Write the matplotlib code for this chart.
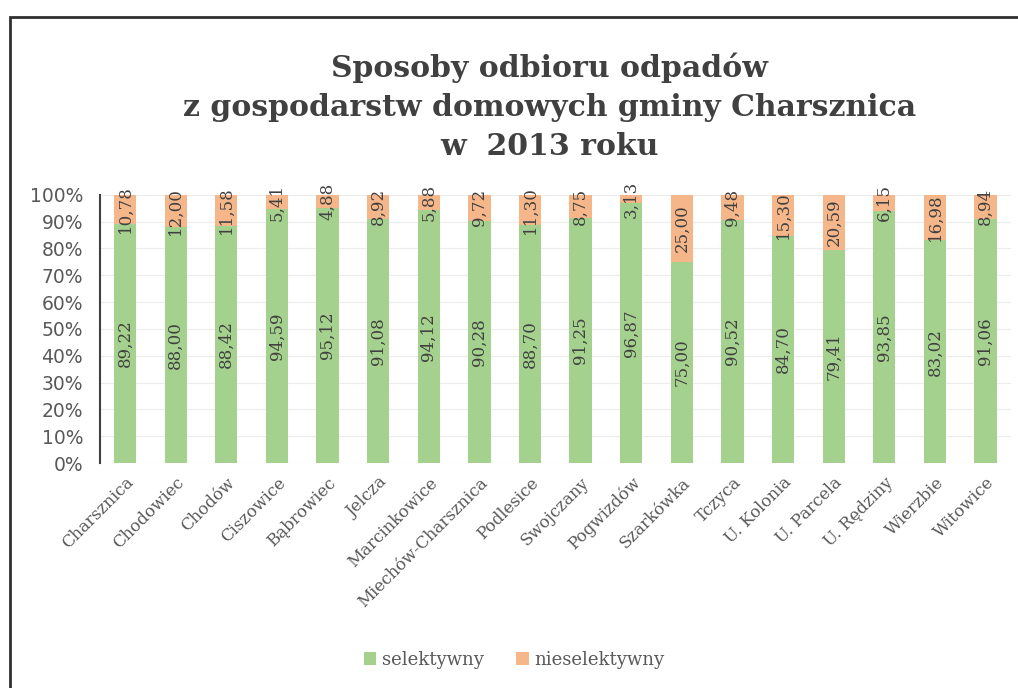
import numpy as np
import matplotlib.pyplot as plt
from matplotlib.patches import Rectangle

gminy = ["Charsznica", "Chodowiec", "Chodów", "Ciszowice", "Bąbrowiec", "Jelcza",
         "Marcinkowice", "Miechów-Charsznica", "Podlesice", "Swojczany", "Pogwizdów",
         "Szarkówka", "Tczyca", "U. Kolonia", "U. Parcela", "U. Rędziny", "Wierzbie",
         "Witowice"]
selektywny = [89.22, 88.00, 88.42, 94.59, 95.12, 91.08, 94.12, 90.28, 88.70, 91.25,
              96.87, 75.00, 90.52, 84.70, 79.41, 93.85, 83.02, 91.06]
nieselektywny = [10.78, 12.00, 11.58, 5.41, 4.88, 8.92, 5.88, 9.72, 11.30, 8.75,
                 3.13, 25.00, 9.48, 15.30, 20.59, 6.15, 16.98, 8.94]

green = "#a5d18e"
orange = "#f5b68a"
txt = "#595959"
serif = ["DejaVu Serif"]

fig = plt.figure(figsize=(10.18, 6.88), dpi=100)
ax = fig.add_axes([0.098, 0.327, 0.895, 0.39])

x = np.arange(len(gminy))
w = 0.44
b1 = ax.bar(x, selektywny, w, color=green, label="selektywny")
b2 = ax.bar(x, nieselektywny, w, bottom=selektywny, color=orange, label="nieselektywny")

# etykiety wartości, pionowo
for i in range(len(gminy)):
    ax.text(x[i], selektywny[i] / 2, f"{selektywny[i]:.2f}".replace(".", ","),
            rotation=90, ha="center", va="center", fontsize=12, color="#404040",
            family=serif)
    ax.text(x[i], selektywny[i] + nieselektywny[i] / 2,
            f"{nieselektywny[i]:.2f}".replace(".", ","),
            rotation=90, ha="center", va="center", fontsize=12, color="#404040",
            family=serif)

ax.set_xlim(-0.5, len(gminy) - 0.5)
ax.set_ylim(0, 100)
ax.set_yticks(np.arange(0, 101, 10))
ax.set_yticklabels([f"{v}%" for v in range(0, 101, 10)], fontsize=13.5, color=txt)
ax.set_xticks(x)
ax.set_xticklabels(gminy, rotation=45, ha="right", rotation_mode="anchor",
                   fontsize=12, color=txt, family=serif)
ax.tick_params(axis="y", length=0, pad=12)
ax.tick_params(axis="x", length=0, pad=8)
ax.grid(axis="y", color="#ececec", lw=0.8)
ax.set_axisbelow(True)
for s in ["top", "right", "bottom"]:
    ax.spines[s].set_visible(False)
ax.spines["left"].set_color("#404040")
ax.spines["left"].set_linewidth(1.5)

fig.text(0.54, 0.845, "Sposoby odbioru odpadów\nz gospodarstw domowych gminy Charsznica\nw  2013 roku",
         ha="center", va="center", fontsize=21.5, fontweight="bold", color="#404040",
         family=serif, linespacing=1.45)

fig.legend(handles=[b1, b2], loc="center", bbox_to_anchor=(0.505, 0.041), ncol=2,
           frameon=False, prop={"family": serif, "size": 13}, labelcolor=txt,
           handlelength=0.7, handleheight=0.7, handletextpad=0.3, columnspacing=1.8)

fig.add_artist(Rectangle((0.01, -0.01), 1.0, 0.985, transform=fig.transFigure,
                         fill=False, edgecolor="#303030", lw=2))

plt.savefig("out.png", dpi=100)
